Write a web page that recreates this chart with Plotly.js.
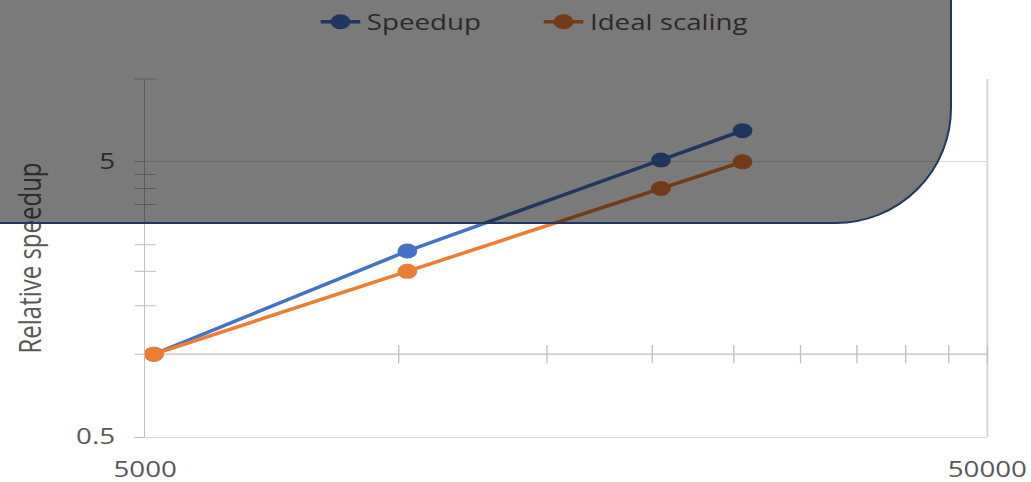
<!DOCTYPE html>
<html>
<head>
<meta charset="utf-8">
<script src="https://cdn.plot.ly/plotly-3.0.1.min.js"></script>
<style>
  html, body { margin: 0; padding: 0; background: #ffffff; }
  #stage { position: relative; width: 1031px; height: 482px; overflow: hidden; background: #ffffff; }
  /* chart is laid out narrower and widened horizontally */
  #chart { position: absolute; left: 0; top: 0; width: 781px; height: 482px;
           transform: scaleX(1.32); transform-origin: 0 0; }
  /* translucent panel with a rounded lower-right corner */
  #shade { position: absolute; left: -10px; top: -10px; width: 962px; height: 234px;
           box-sizing: border-box; border: 2px solid #1f3864;
           border-bottom-right-radius: 116px; background: rgba(0, 0, 0, 0.52);
           pointer-events: none; }
</style>
</head>
<body>
<div id="stage">
  <div id="chart"></div>
  <div id="shade"></div>
</div>
<script>
// Problem size (x) and measured vs. ideal speedup (y)
const problemSize = [5120, 10240, 20480, 25600];
const speedup = [1, 2.37, 5.08, 6.49];
const idealScaling = [1, 2, 4, 5];

// Axis extents, labelled ticks and the unlabelled cross ticks
const xBounds = [5000, 50000];
const yBounds = [0.5, 10];
const xTickVals = [5000, 50000];
const xTickText = ['5000', '50000'];
const yTickVals = [0.5, 5];
const yTickText = ['0.5', '5'];
const xCrossTicks = [10000, 15000, 20000, 25000, 30000, 35000, 40000, 45000, 50000];
const yCrossTicks = [1, 1.5, 2, 2.5, 3, 3.5, 4, 4.5, 10];
const xAxisCrossesAt = 1;

const font = '"Open Sans", "Noto Sans", sans-serif';
const textColor = '#595959';
const axisGray = '#bfbfbf';
const gridGray = '#d9d9d9';

const traces = [
  // horizontal axis line where the x axis crosses y = 1
  {
    x: xBounds, y: xBounds.map(() => xAxisCrossesAt),
    mode: 'lines', line: {color: axisGray, width: 1.2},
    showlegend: false, hoverinfo: 'skip', cliponaxis: false
  },
  // cross ticks on that line
  {
    x: xCrossTicks, y: xCrossTicks.map(() => xAxisCrossesAt),
    mode: 'markers',
    marker: {symbol: 'line-ns', size: 13, line: {color: axisGray, width: 1}},
    showlegend: false, hoverinfo: 'skip', cliponaxis: false
  },
  // cross ticks on the vertical axis
  {
    x: yCrossTicks.map(() => xBounds[0]), y: yCrossTicks,
    mode: 'markers',
    marker: {symbol: 'line-ew', size: 11.4, line: {color: axisGray, width: 1}},
    showlegend: false, hoverinfo: 'skip', cliponaxis: false
  },
  {
    name: 'Speedup',
    x: problemSize, y: speedup,
    mode: 'lines+markers',
    line: {color: '#4472c4', width: 3.4},
    marker: {color: '#4472c4', size: 15},
    cliponaxis: false
  },
  {
    name: 'Ideal scaling',
    x: problemSize, y: idealScaling,
    mode: 'lines+markers',
    line: {color: '#ed7d31', width: 3.4},
    marker: {color: '#ed7d31', size: 15},
    cliponaxis: false
  }
];

const layout = {
  width: 781,
  height: 482,
  margin: {l: 110, r: 33, t: 79, b: 45, pad: 0, autoexpand: false},
  paper_bgcolor: '#ffffff',
  plot_bgcolor: '#ffffff',
  font: {family: font, color: textColor},
  showlegend: true,
  legend: {
    orientation: 'h',
    x: 0.2005, xanchor: 'left',
    y: 1.159, yanchor: 'middle',
    entrywidth: 124, entrywidthmode: 'pixels',
    font: {family: font, size: 21, color: textColor},
    bgcolor: 'rgba(0,0,0,0)',
    traceorder: 'normal'
  },
  xaxis: {
    type: 'log',
    range: xBounds.map(Math.log10),
    tickmode: 'array', tickvals: xTickVals, ticktext: xTickText,
    ticks: '',
    ticklabelstandoff: 14,
    tickfont: {family: font, size: 21, color: textColor},
    showline: true, linecolor: gridGray, linewidth: 1.3,
    showgrid: true, gridcolor: gridGray, gridwidth: 1.3,
    zeroline: false
  },
  yaxis: {
    type: 'log',
    range: yBounds.map(Math.log10),
    tickmode: 'array', tickvals: yTickVals, ticktext: yTickText,
    ticks: 'outside', ticklen: 7.6, tickwidth: 1, tickcolor: axisGray,
    ticklabelstandoff: 10,
    tickfont: {family: font, size: 21, color: textColor},
    showline: true, linecolor: axisGray, linewidth: 1, mirror: false,
    showgrid: true, gridcolor: gridGray, gridwidth: 1.3,
    zeroline: false,
    title: {
      text: 'Relative speedup',
      font: {family: font, size: 24, color: textColor},
      standoff: 19
    }
  },
  shapes: [
    // right-hand border of the plot area at the top of the x range
    {type: 'line', xref: 'paper', yref: 'paper', x0: 1, x1: 1, y0: 0, y1: 1,
     line: {color: gridGray, width: 1.5}, layer: 'below'}
  ]
};

Plotly.newPlot('chart', traces, layout, {staticPlot: true, displayModeBar: false});
</script>
</body>
</html>
